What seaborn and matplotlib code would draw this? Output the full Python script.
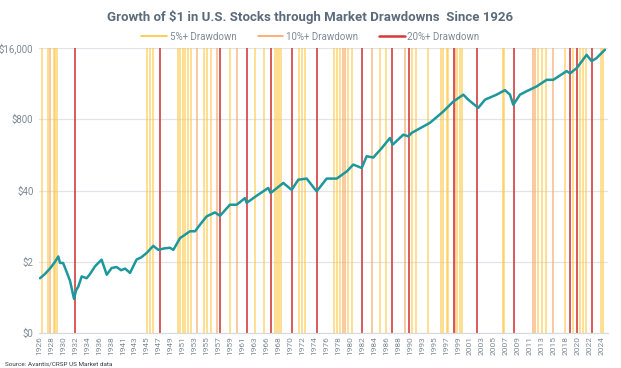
import numpy as np
import pandas as pd
import seaborn as sns
import matplotlib.pyplot as plt
from matplotlib.lines import Line2D

# growth of $1 (log scale)
years = [1926.47, 1927.35, 1928.2, 1929.1, 1929.66, 1929.96, 1930.5, 1931.0, 1931.7, 1932.4,
         1932.75, 1933.14, 1933.74, 1934.6, 1935.2, 1936.05, 1937.2, 1938.1, 1938.96, 1939.83,
         1940.6, 1941.3, 1942.15, 1943.3, 1944.1, 1945.06, 1946.2, 1947.08, 1948.07, 1949.1,
         1949.7, 1950.86, 1952.6, 1953.47, 1954.34, 1955.5, 1956.08, 1956.95, 1957.82, 1959.56,
         1960.73, 1962.17, 1962.47, 1964.2, 1966.23, 1966.65, 1968.85, 1970.3, 1971.46, 1972.92,
         1974.66, 1976.4, 1978.15, 1979.89, 1981.04, 1982.5, 1983.37, 1984.52, 1985.98, 1987.43,
         1987.9, 1989.75, 1990.62, 1991.2, 1994.4, 1996.7, 1998.45, 2000.2, 2001.07, 2002.8,
         2003.97, 2006.0, 2007.45, 2008.33, 2008.9, 2010.07, 2011.23, 2012.97, 2014.72, 2015.87,
         2018.2, 2018.8, 2019.97, 2021.68, 2022.55, 2023.42, 2024.87]
growth = [1.0, 1.2, 1.5, 2.0, 2.5, 1.9, 1.9, 1.4, 0.9, 0.42,
          0.6, 0.7, 1.08, 1.0, 1.2, 1.65, 2.18, 1.16, 1.54, 1.6,
          1.4, 1.5, 1.25, 2.2, 2.4, 2.9, 3.9, 3.3, 3.5, 3.6,
          3.3, 5.4, 7.2, 7.2, 9.5, 13.5, 14.4, 15.9, 13.8, 22,
          22, 29, 23.8, 32, 44.5, 36, 55, 41, 63, 66,
          38.6, 66, 66, 89, 119, 103, 169, 160, 237, 364,
          275, 418, 390, 450, 690, 1105, 1680, 2250, 1820, 1290,
          1820, 2250, 2720, 2250, 1470, 2250, 2600, 3180, 4200, 4200,
          6050, 5500, 6900, 12000, 9200, 10500, 14900]

# drawdown markers (year positions)
dd_5 = [1926.8, 1927.8, 1928.83, 1929.09, 1929.38, 1945.16, 1945.63, 1946.2, 1950.46, 1950.86,
        1951.33, 1951.73, 1952.2, 1952.72, 1955.04, 1955.61, 1956.26, 1959.65, 1963.92, 1965.5,
        1967.4, 1967.75, 1968.1, 1968.45, 1971.58, 1972.1, 1972.63, 1977.68, 1978.15, 1978.81,
        1980.17, 1980.76, 1985.69, 1986.65, 1991.21, 1991.96, 1994.1, 1996.4, 1996.71, 1997.3,
        1997.58, 1999.15, 1999.62, 1999.92, 2007.06, 2007.34, 2013.26, 2013.85, 2014.6, 2017.91,
        2019.35, 2020.52, 2020.96, 2021.57, 2024.18, 2024.53]
dd_10 = [1928.2, 1953.76, 1957.25, 1960.73, 1979.2, 1979.55, 1984.38, 1990.04, 1998.7,
         2012.28, 2012.68, 2015.87]
dd_20 = [1932.6, 1947.4, 1957.8, 1962.5, 1966.7, 1970.3, 1974.7, 1982.5, 1987.7, 1990.7,
         1998.5, 2002.6, 2009.0, 2018.8, 2020.0, 2022.6]

tick_labels = ['1926', '1928', '1930', '1932', '1934', '1936', '1938', '1941', '1943', '1945',
               '1947', '1949', '1951', '1953', '1955', '1957', '1959', '1961', '1963', '1966',
               '1968', '1970', '1972', '1974', '1976', '1978', '1980', '1982', '1984', '1986',
               '1988', '1990', '1993', '1995', '1997', '1999', '2001', '2003', '2005', '2007',
               '2009', '2011', '2013', '2015', '2018', '2020', '2022', '2024']
y_ticks = [0.1, 2, 40, 800, 16000]
y_labels = ['$0', '$2', '$40', '$800', '$16,000']

c5, c10, c20 = '#FFC53A', '#F7A65E', '#D23A3A'
teal = '#1C989C'
grey = '#7D8A97'

sns.set_style('white')
plt.rcParams['font.family'] = ['Roboto', 'DejaVu Sans']

fig = plt.figure(figsize=(6.21, 3.68), dpi=100)
ax = fig.add_axes([39 / 621, 35 / 368, 569 / 621, 285 / 368])

for x in dd_5:
    ax.axvline(x, color=c5, lw=1.1, alpha=0.7, zorder=1)
for x in dd_10:
    ax.axvline(x, color=c10, lw=1.1, alpha=0.75, zorder=1)
for x in dd_20:
    ax.axvline(x, color=c20, lw=1.3, alpha=0.9, zorder=2)

df = pd.DataFrame({'year': years, 'growth': growth})
sns.lineplot(data=df, x='year', y='growth', color=teal, lw=1.8, ax=ax, zorder=3)

ax.set_yscale('log')
ax.set_ylim(0.1, 16000)
ax.set_yticks(y_ticks)
ax.set_yticklabels(y_labels)
ax.minorticks_off()
ax.set_xlim(1926.3, 2025.4)
ax.set_xticks(np.linspace(1926.3, 2024.3, len(tick_labels)))
ax.set_xticklabels(tick_labels, rotation=90)
ax.tick_params(axis='both', length=0, colors=grey)
ax.tick_params(axis='x', labelsize=6, pad=2.5)
ax.tick_params(axis='y', labelsize=7, pad=4)
ax.set_xlabel('')
ax.set_ylabel('')
ax.grid(axis='y', color='#E1E5EA', lw=0.9, zorder=0)
for s in ['top', 'right', 'left']:
    ax.spines[s].set_visible(False)
ax.spines['bottom'].set_color('#D5DAE0')

fig.text(0.5, 0.955, 'Growth of $1 in U.S. Stocks through Market Drawdowns  Since 1926',
         ha='center', va='center', fontsize=9.5, fontweight='bold', color='#5B6B7B')

handles = [Line2D([], [], color=c5, lw=1.2),
           Line2D([], [], color=c10, lw=1.2),
           Line2D([], [], color=c20, lw=1.8)]
fig.legend(handles, ['5%+ Drawdown', '10%+ Drawdown', '20%+ Drawdown'], loc='center',
           bbox_to_anchor=(0.5, 0.9), ncol=3, frameon=False, fontsize=7,
           labelcolor=grey, handlelength=2.6, handletextpad=0.3, columnspacing=2.2)

fig.text(0.008, 0.004, 'Source: Avantis/CRSP US Market data', fontsize=4.6,
         color='#2F3B47', ha='left', va='bottom')

fig.savefig('out.png', dpi=100)
